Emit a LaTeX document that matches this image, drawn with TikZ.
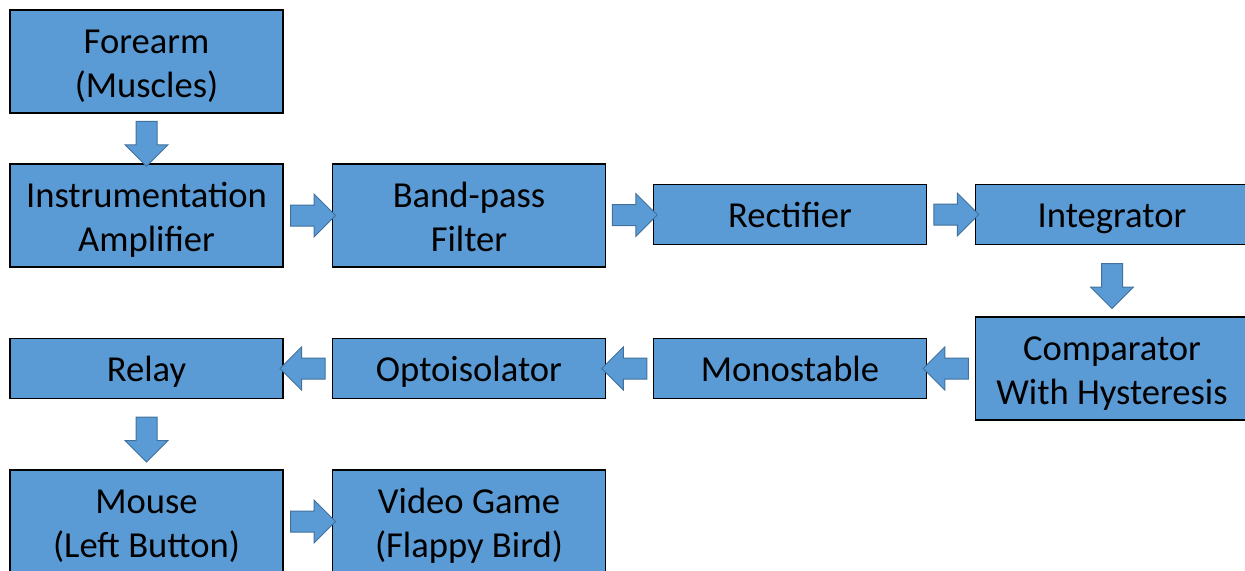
\documentclass[tikz,border=0pt]{standalone}
\usepackage{fontspec}
\setmainfont{Carlito}
\usepackage{xcolor}
\usetikzlibrary{shapes.arrows,calc}
\definecolor{boxblue}{HTML}{5B9BD5}
\definecolor{arrowedge}{HTML}{41719C}

\begin{document}
\begin{tikzpicture}[x=0.5pt,y=-0.5pt,
    block/.style={draw=black,line width=0.75pt,fill=boxblue,align=center,
        minimum width=136.5pt,minimum height=51.5pt,inner sep=0pt,
        text height=37.5pt,text depth=2pt,
        font=\fontsize{18.3}{22}\selectfont},
    thinblock/.style={block,minimum height=30pt,text height=16.8pt,text depth=4pt},
    flow/.style={single arrow,draw=arrowedge,line width=0.5pt,fill=boxblue,
        inner sep=5pt,minimum height=22.5pt,single arrow head extend=5.5pt,
        single arrow head indent=0pt}]
                \useasboundingbox (0,0) rectangle (1245,570);
                % first column
                \node[block] (forearm) at (146.5,61.5) {Forearm\\(Muscles)};
                \node[block] (amp) at (146.5,215.5) {Instrumentation\\Amplifier};
                \node[thinblock] (relay) at (146.5,368.5) {Relay};
                \node[block] (mouse) at (146.5,521.5) {Mouse\\(Left Button)};
                % second column
                \node[block] (filter) at (469,215.5) {Band-pass\\Filter};
                \node[thinblock] (opto) at (469,368.5) {Optoisolator};
                \node[block] (game) at (469,521.5) {Video Game\\(Flappy Bird)};
                % third column
                \node[thinblock] (rect) at (790,214.5) {Rectifier};
                \node[thinblock] (mono) at (790,368.5) {Monostable};
                % fourth column
                \node[thinblock] (integ) at (1112,214.5) {Integrator};
                \node[block] (comp) at (1112,368.5) {Comparator\\With Hysteresis};
                % block arrows
                \node[flow,rotate=-90] at ($(forearm.south)!0.5!(amp.north)$) {};
                \node[flow] at ($(amp.east)!0.5!(filter.west)$) {};
                \node[flow] at ($(filter.east)!0.5!(rect.west)$) {};
                \node[flow] at ($(rect.east)!0.5!(integ.west)$) {};
                \node[flow,rotate=-90] at ($(integ.south)!0.5!(comp.north)$) {};
                \node[flow,rotate=180] at ($(comp.west)!0.5!(mono.east)$) {};
                \node[flow,rotate=180] at ($(mono.west)!0.5!(opto.east)$) {};
                \node[flow,rotate=180] at ($(opto.west)!0.5!(relay.east)$) {};
                \node[flow,rotate=-90] at ($(relay.south)!0.5!(mouse.north)$) {};
                \node[flow] at ($(mouse.east)!0.5!(game.west)$) {};
            \end{tikzpicture}
\end{document}
